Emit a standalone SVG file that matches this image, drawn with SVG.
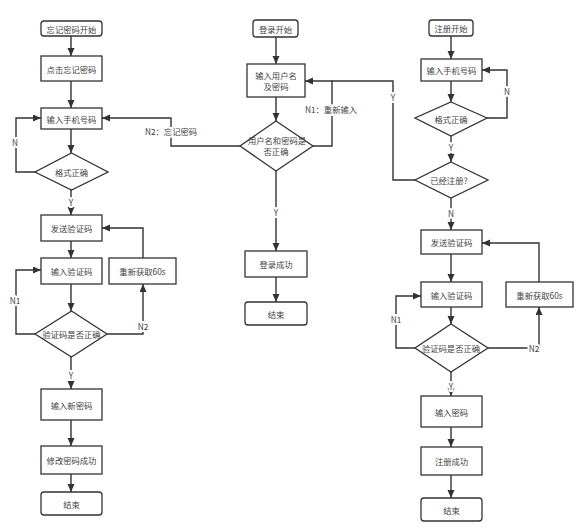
<svg xmlns="http://www.w3.org/2000/svg" width="580" height="529" viewBox="0 0 580 529">
<defs>
<marker id="arr" markerUnits="userSpaceOnUse" markerWidth="9" markerHeight="8" refX="8" refY="3.5" orient="auto">
<path d="M0,0 L8,3.5 L0,7 z" fill="#333"/>
</marker>
<style>
.box{fill:#fff;stroke:#333;stroke-width:1.3}
.t{font-family:"Noto Sans CJK SC","Liberation Sans",sans-serif;font-size:8.3px;fill:#444;text-anchor:middle;dominant-baseline:central}
.c{fill:none;stroke:#333;stroke-width:1.4;marker-end:url(#arr)}
.cl{fill:none;stroke:#333;stroke-width:1.4}
.lb{font-family:"Noto Sans CJK SC","Liberation Sans",sans-serif;font-size:8.3px;fill:#444;text-anchor:middle;dominant-baseline:central;paint-order:stroke;stroke:#fff;stroke-width:4px;stroke-linejoin:round}
</style>
</defs>
<rect width="580" height="529" fill="#fff"/>
<g id="connectors">
<path class="c" d="M71,36 V56"/>
<path class="c" d="M71,81 V108"/>
<path class="c" d="M71,129 V153"/>
<path class="c" d="M35,172 H16 V118 H41"/>
<path class="c" d="M71,190 V215"/>
<path class="c" d="M71,241 V258"/>
<path class="c" d="M71,284 V311"/>
<path class="c" d="M35,334 H16 V270 H41"/>
<path class="c" d="M107,334 H143 V284"/>
<path class="c" d="M143,258 V228 H102"/>
<path class="c" d="M71,357 V389"/>
<path class="c" d="M71,420 V446"/>
<path class="c" d="M71,474 V492"/>
<path class="c" d="M276,37 V64"/>
<path class="c" d="M276,97 V121"/>
<path class="c" d="M276,171 V251"/>
<path class="c" d="M276,277 V302"/>
<path class="c" d="M313,146 H332 V81 H305"/>
<path class="c" d="M240,146 H171 V118 H102"/>
<path class="c" d="M451,36 V59"/>
<path class="c" d="M451,81 V102"/>
<path class="c" d="M487,118 H507 V70 H482"/>
<path class="c" d="M451,136 V162"/>
<path class="cl" d="M415,180 H393 V81 H332"/>
<path class="c" d="M451,198 V230"/>
<path class="c" d="M451,254 V282"/>
<path class="c" d="M451,307 V324"/>
<path class="c" d="M415,348 H396 V296 H421"/>
<path class="c" d="M488,348 H539 V307"/>
<path class="c" d="M539,282 V243 H482"/>
<path class="c" d="M451,372 V396"/>
<path class="c" d="M451,427 V447"/>
<path class="c" d="M451,475 V498"/>
<text class="lb" x="15" y="142">N</text>
<text class="lb" x="71" y="202">Y</text>
<text class="lb" x="15" y="300">N1</text>
<text class="lb" x="143" y="326">N2</text>
<text class="lb" x="71" y="375">Y</text>
<text class="lb" x="171" y="131">N2：忘记密码</text>
<text class="lb" x="331" y="109">N1：重新输入</text>
<text class="lb" x="276" y="212">Y</text>
<text class="lb" x="507" y="91">N</text>
<text class="lb" x="451" y="147">Y</text>
<text class="lb" x="393" y="97">Y</text>
<text class="lb" x="451" y="213">N</text>
<text class="lb" x="396" y="319">N1</text>
<text class="lb" x="534" y="348">N2</text>
<text class="lb" x="451" y="386">Y</text>
</g>
<g id="f_start"><rect class="box" x="41" y="21" width="61" height="15" rx="3"/><text class="t" x="71.5" y="28.5">忘记密码开始</text></g>
<g id="f_click"><rect class="box" x="41" y="56" width="61" height="25"/><text class="t" x="71.5" y="68.5">点击忘记密码</text></g>
<g id="f_phone"><rect class="box" x="41" y="108" width="61" height="21"/><text class="t" x="71.5" y="118.5">输入手机号码</text></g>
<g id="f_fmt"><path class="box" d="M71.5,153 L108,172 L71.5,190 L35,172 Z"/><text class="t" x="71.5" y="172">格式正确</text></g>
<g id="f_send"><rect class="box" x="41" y="215" width="61" height="26"/><text class="t" x="71.5" y="228">发送验证码</text></g>
<g id="f_code"><rect class="box" x="41" y="258" width="61" height="26"/><text class="t" x="71.5" y="271">输入验证码</text></g>
<g id="f_retry"><rect class="box" x="109" y="258" width="67" height="26"/><text class="t" x="142.5" y="271">重新获取60s</text></g>
<g id="f_check"><path class="box" d="M71.5,311 L107,334 L71.5,357 L35,334 Z"/><text class="t" x="71.5" y="334">验证码是否正确</text></g>
<g id="f_newpwd"><rect class="box" x="41" y="389" width="61" height="31"/><text class="t" x="71.5" y="404.5">输入新密码</text></g>
<g id="f_ok"><rect class="box" x="41" y="446" width="61" height="28"/><text class="t" x="71.5" y="460">修改密码成功</text></g>
<g id="f_end"><rect class="box" x="41" y="492" width="61" height="23" rx="3"/><text class="t" x="71.5" y="503.5">结束</text></g>
<g id="l_start"><rect class="box" x="253" y="20" width="45" height="17" rx="3"/><text class="t" x="275.5" y="28.5">登录开始</text></g>
<g id="l_input"><rect class="box" x="247" y="64" width="58" height="33"/><text class="t" x="276" y="75">输入用户名</text><text class="t" x="276" y="86">及密码</text></g>
<g id="l_check"><path class="box" d="M276,121 L313,146 L276,171 L240,146 Z"/><text class="t" x="277" y="140">用户名和密码是</text><text class="t" x="276" y="151">否正确</text></g>
<g id="l_ok"><rect class="box" x="245" y="251" width="62" height="26"/><text class="t" x="276" y="264">登录成功</text></g>
<g id="l_end"><rect class="box" x="245" y="302" width="62" height="23" rx="3"/><text class="t" x="276" y="313.5">结束</text></g>
<g id="r_start"><rect class="box" x="429" y="20" width="44" height="16" rx="3"/><text class="t" x="451" y="28">注册开始</text></g>
<g id="r_phone"><rect class="box" x="421" y="59" width="61" height="22"/><text class="t" x="451.5" y="70">输入手机号码</text></g>
<g id="r_fmt"><path class="box" d="M451,102 L487,118 L451,136 L415,118 Z"/><text class="t" x="451" y="118.5">格式正确</text></g>
<g id="r_reg"><path class="box" d="M451,162 L488,180 L451,198 L415,180 Z"/><text class="t" x="451" y="180">已经注册？</text></g>
<g id="r_send"><rect class="box" x="421" y="230" width="61" height="24"/><text class="t" x="451.5" y="242">发送验证码</text></g>
<g id="r_code"><rect class="box" x="421" y="282" width="61" height="25"/><text class="t" x="451.5" y="294.5">输入验证码</text></g>
<g id="r_retry"><rect class="box" x="506" y="282" width="67" height="25"/><text class="t" x="539.5" y="294.5">重新获取60s</text></g>
<g id="r_check"><path class="box" d="M451,324 L488,348 L451,372 L415,348 Z"/><text class="t" x="451" y="348">验证码是否正确</text></g>
<g id="r_pwd"><rect class="box" x="421" y="396" width="61" height="31"/><text class="t" x="451.5" y="411.5">输入密码</text></g>
<g id="r_ok"><rect class="box" x="421" y="447" width="61" height="28"/><text class="t" x="451.5" y="461">注册成功</text></g>
<g id="r_end"><rect class="box" x="421" y="498" width="61" height="23" rx="3"/><text class="t" x="451.5" y="509.5">结束</text></g>
</svg>
